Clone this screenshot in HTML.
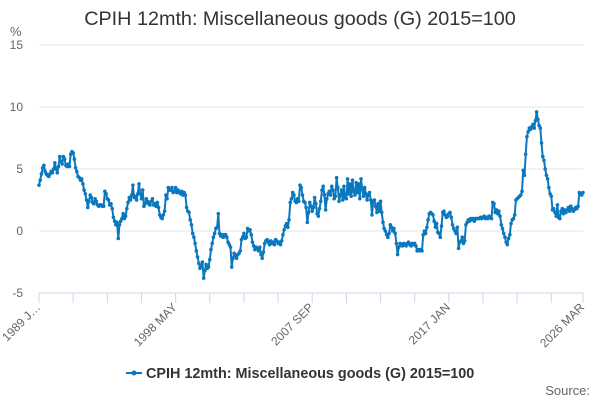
<!DOCTYPE html>
<html><head><meta charset="utf-8"><style>
body{margin:0;width:600px;height:400px;background:#fff;font-family:"Liberation Sans",sans-serif;overflow:hidden}
</style></head><body>
<svg id="chart" width="600" height="400" xmlns="http://www.w3.org/2000/svg">
<text x="300" y="25" text-anchor="middle" font-size="19.8" fill="#333">CPIH 12mth: Miscellaneous goods (G) 2015=100</text>
<text x="10" y="36" font-size="13" fill="#666">%</text>
<g id="grid"></g><g id="xaxis"></g><g id="series"></g>
<g>
<line x1="126" y1="373" x2="142" y2="373" stroke="#0b78be" stroke-width="2"/>
<circle cx="134" cy="373" r="2.5" fill="#0b78be"/>
<text x="146" y="378" font-size="14.4" font-weight="bold" fill="#333">CPIH 12mth: Miscellaneous goods (G) 2015=100</text>
</g>
<text x="590" y="395" text-anchor="end" font-size="13" fill="#666">Source:</text>
</svg>
<script>
const yTicks=[15,10,5,0,-5];
const xLabelMonths=[0,112,224,336,446];
const xLabels=["1989 J…","1998 MAY","2007 SEP","2017 JAN","2026 MAR"];
const values=[
3.7,4.1,4.6,5.1,5.3,4.8,4.6,4.5,4.4,4.6,4.8,4.7,
5.0,5.5,5.0,4.7,5.2,6.0,5.6,5.4,6.0,5.8,5.3,5.2,
5.4,5.2,6.2,6.4,6.3,5.8,5.1,4.8,4.4,4.3,4.1,4.2,
3.8,3.3,3.0,2.5,1.9,2.4,2.9,2.7,2.3,2.2,2.6,2.4,
2.1,2.0,2.1,2.1,2.0,2.0,3.2,3.0,2.6,2.5,2.1,2.2,
1.8,1.1,0.8,0.5,0.7,-0.6,0.5,0.8,1.0,1.4,1.0,1.2,
1.8,2.3,2.7,2.5,2.9,3.7,2.7,2.8,2.5,3.0,3.8,3.0,
2.6,3.3,2.0,2.2,2.6,2.4,2.2,2.1,2.4,2.6,2.1,2.2,
2.0,2.3,1.9,1.3,1.1,1.0,1.3,1.6,2.9,2.6,3.5,3.3,
3.3,3.5,3.1,3.2,3.5,3.1,3.3,3.1,3.0,3.2,2.9,3.1,
2.9,1.9,1.6,1.5,0.9,0.5,-0.2,-0.5,-1.0,-1.6,-2.1,-2.6,
-3.0,-2.8,-2.5,-3.8,-3.2,-2.7,-3.0,-2.9,-2.3,-1.5,-1.0,-0.5,
-0.2,0.2,0.3,1.4,-0.2,-0.4,-0.3,-0.5,-0.3,-0.3,-0.5,-0.9,
-1.1,-1.3,-2.9,-2.2,-1.8,-2.0,-2.2,-1.9,-1.8,-1.6,-0.7,-0.5,
-0.2,-0.6,-0.5,0.2,0.0,0.1,-0.3,-0.9,-1.2,-1.5,-1.3,-1.4,
-1.6,-1.3,-1.9,-2.2,-1.7,-1.0,-0.8,-0.7,-0.9,-1.1,-0.8,-1.0,
-0.9,-1.1,-0.7,-0.8,-1.0,-0.9,-1.1,-0.8,-0.3,0.1,0.4,0.6,
0.3,0.9,2.3,2.6,3.1,2.9,2.4,2.3,2.6,2.4,3.7,3.5,
2.9,2.4,2.3,1.9,0.7,1.5,2.3,2.0,1.6,1.9,2.7,2.2,
1.4,1.2,1.8,2.4,3.3,3.6,2.9,1.7,2.6,3.0,3.2,2.9,
3.6,3.3,2.6,2.8,4.3,3.5,2.4,2.9,3.3,2.5,3.6,2.7,
2.6,4.2,3.0,3.8,2.8,4.1,3.2,2.9,3.9,3.1,3.8,2.6,
4.2,3.4,2.8,3.5,3.0,2.5,2.9,3.1,2.5,1.3,2.4,2.5,
2.0,1.5,2.2,1.6,2.4,1.5,0.7,0.2,0.0,-0.3,-0.5,-0.2,
0.5,0.3,0.0,0.2,-0.2,-1.0,-1.9,-1.3,-1.0,-1.1,-1.2,-1.0,
-1.1,-1.2,-1.0,-0.9,-1.1,-1.2,-1.0,-1.1,-1.0,-1.2,-1.6,-1.5,
-1.6,-1.5,-1.6,-0.3,0.0,-0.2,0.3,0.9,1.4,1.5,1.4,1.3,
0.8,0.3,0.6,-0.1,-0.2,-0.5,0.4,1.5,1.6,1.3,1.1,1.2,
1.4,1.5,1.1,0.5,0.2,0.0,-0.2,0.3,-1.4,-0.9,-0.8,-0.5,
-1.0,-0.8,0.5,0.7,0.9,0.8,1.0,0.9,1.0,0.8,1.0,1.0,
1.0,1.0,1.1,1.0,1.1,1.2,1.0,1.1,1.0,1.2,1.1,1.0,
2.3,2.2,1.5,1.7,1.4,1.6,1.2,0.5,0.2,-0.2,-0.5,-0.9,
-1.1,-0.6,-0.3,0.6,0.9,1.0,1.3,2.5,2.6,2.7,2.8,2.9,
3.2,4.9,4.5,6.2,7.6,8.0,8.3,8.2,8.4,8.6,8.3,8.9,
9.6,9.0,8.5,8.3,7.1,6.0,5.7,5.0,4.5,4.2,3.5,3.0,
2.8,1.7,1.8,1.5,1.2,2.1,1.1,1.0,1.6,1.8,1.4,1.7,
1.5,1.7,1.9,1.6,2.0,1.8,1.6,1.7,1.9,1.8,2.0,3.1,
3.0,2.9,3.1
];
const NS="http://www.w3.org/2000/svg";
const X0=39,X1=583,Y0=231,PPU=12.4;
const N=values.length;
function xs(i){return X0+(X1-X0)*i/(N-1);}
function ys(v){return Y0-v*PPU;}
function mk(tag,attrs,parent){const e=document.createElementNS(NS,tag);for(const k in attrs)e.setAttribute(k,attrs[k]);parent.appendChild(e);return e;}
const grid=document.getElementById('grid');
yTicks.forEach(t=>{
  if(t>-5){const l=mk('line',{x1:X0,x2:X1,y1:ys(t),y2:ys(t),stroke:'#e6e6e6','stroke-width':1},grid);
  
  }
  const tx=mk('text',{x:23,y:ys(t)+4,'text-anchor':'end','font-size':12,fill:'#666'},grid);
  tx.textContent=t;
  
  
});
const xa=document.getElementById('xaxis');
const axl=mk('line',{x1:X0,x2:X1,y1:ys(-5),y2:ys(-5),stroke:'#ccd6eb','stroke-width':1},xa);


for(let m=0;m<N;m+=28){
  const tk=mk('line',{x1:xs(m),x2:xs(m),y1:ys(-5),y2:ys(-5)+10,stroke:'#ccd6eb'},xa);
  
  
}
const tkl=mk('line',{x1:xs(N-1),x2:xs(N-1),y1:ys(-5),y2:ys(-5)+10,stroke:'#ccd6eb'},xa);


xLabelMonths.forEach((m,k)=>{
  const x=xs(m)+2,y=ys(-5)+15;
  const t=mk('text',{x:x,y:y,'text-anchor':'end','font-size':12,fill:'#666',transform:`rotate(-45 ${x} ${y})`},xa);
  t.textContent=xLabels[k];
  
  
});
const sg=document.getElementById('series');
const p=mk('polyline',{points:values.map((v,i)=>xs(i).toFixed(1)+','+ys(v).toFixed(1)).join(' '),fill:'none',stroke:'#0b78be','stroke-width':2,'stroke-linejoin':'round'},sg);


values.forEach((v,i)=>{
  const c=mk('circle',{cx:xs(i),cy:ys(v),r:1.8,fill:'#0b78be'},sg);
  
  
});
</script>
</body></html>
